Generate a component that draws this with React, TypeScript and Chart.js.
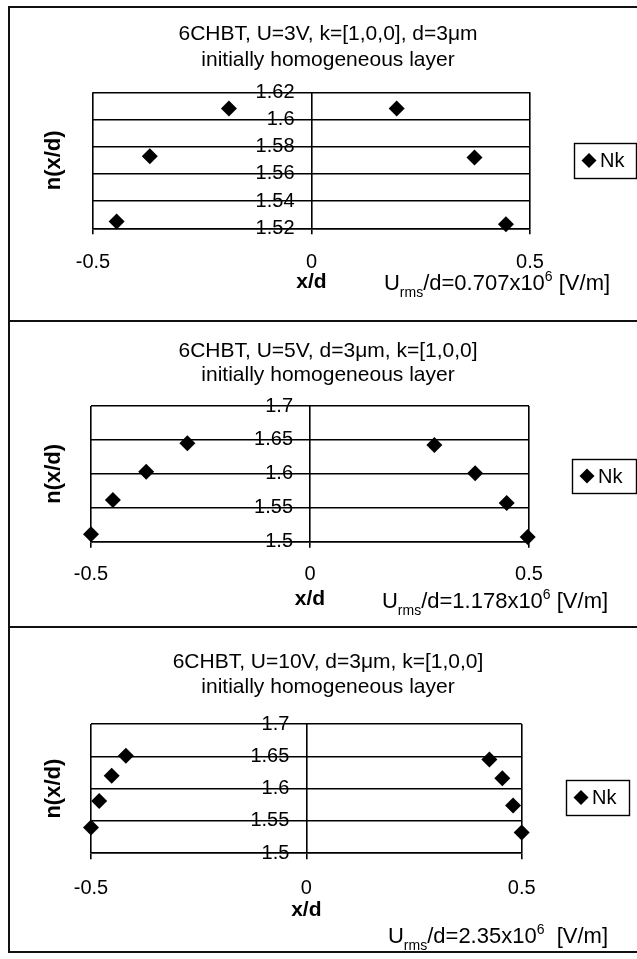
import React, { useEffect, useRef } from "react";
import { Chart, registerables } from "chart.js";

Chart.register(...registerables);

const FONT_FAMILY = "'Liberation Sans', Arial, Helvetica, sans-serif";

// ---------- data ----------
const SERIES_NAME = "Nk";
const X_AXIS_TITLE = "x/d";
const Y_AXIS_TITLE = "n(x/d)";
const SUBTITLE = "initially homogeneous layer";
const X_MIN = -0.5;
const X_MAX = 0.5;
const X_STEP = 0.5;

const TITLES = [
  "6CHBT, U=3V, k=[1,0,0], d=3μm",
  "6CHBT, U=5V, d=3μm, k=[1,0,0]",
  "6CHBT, U=10V, d=3μm, k=[1,0,0]",
];
const URMS_VALUES = ["0.707", "1.178", "2.35"];
const URMS_GAPS = [" ", " ", "  "];

const X_1 = [-0.446, -0.37, -0.189, 0.195, 0.373, 0.445];
const N_1 = [1.525, 1.573, 1.608, 1.608, 1.572, 1.523];

const X_2 = [-0.5, -0.45, -0.374, -0.28, 0.284, 0.377, 0.449, 0.497];
const N_2 = [1.511, 1.5615, 1.603, 1.645, 1.6425, 1.601, 1.557, 1.507];

const X_3 = [-0.5, -0.481, -0.452, -0.419, 0.425, 0.455, 0.48, 0.5];
const N_3 = [1.54, 1.581, 1.62, 1.651, 1.645, 1.616, 1.574, 1.532];

const X_SERIES = [X_1, X_2, X_3];
const N_SERIES = [N_1, N_2, N_3];
const Y_MIN = [1.52, 1.5, 1.5];
const Y_MAX = [1.62, 1.7, 1.7];
const Y_STEP = [0.02, 0.05, 0.05];

// ---------- layout (page pixels) ----------
const PAGE_W = 637;
const PAGE_H = 959;
const LAYOUT = [
  { top: 0, height: 321, left: 93, right: 530, plotTop: 92.3, plotBottom: 228.3, titleCenter: 34, titleLH: 26, tickCenter: 262, xTitleCenter: 282, urmsCX: 497, urmsCY: 282, legend: [574, 143, 637, 178] },
  { top: 321, height: 306, left: 91, right: 529, plotTop: 406, plotBottom: 541.7, titleCenter: 351.5, titleLH: 24, tickCenter: 574, xTitleCenter: 599, urmsCX: 495, urmsCY: 600, legend: [572, 459, 637, 493] },
  { top: 627, height: 332, left: 91, right: 521.7, plotTop: 724, plotBottom: 853.3, titleCenter: 662, titleLH: 25, tickCenter: 888, xTitleCenter: 910, urmsCX: 498, urmsCY: 935, legend: [566, 780, 630, 815] },
];
const TITLE_CENTER_X = 328;
const LINE_W = 1.6;
const INK = "#000";
const TITLE_SIZE = 21;
const TICK_SIZE = 20;
const X_TITLE_SIZE = 21;
const Y_TITLE_SIZE = 22;
const URMS_SIZE = 22;
const LEGEND_SIZE = 20;

const decorPlugin = {
  id: "panelDecor",
  afterDraw(chart: any, _args: any, opts: any) {
    const ctx = chart.ctx as CanvasRenderingContext2D;
    const T = opts.top;
    ctx.save();
    // legend
    const [l, t, r, b] = opts.legend;
    ctx.strokeStyle = INK;
    ctx.lineWidth = 1.4;
    ctx.strokeRect(l + 0.5, t - T + 0.5, r - l - 1, b - t);
    const cy = (t + b) / 2 - T;
    const dx = l + 15;
    const rad = 7.5;
    ctx.fillStyle = INK;
    ctx.beginPath();
    ctx.moveTo(dx, cy - rad);
    ctx.lineTo(dx + rad, cy);
    ctx.lineTo(dx, cy + rad);
    ctx.lineTo(dx - rad, cy);
    ctx.closePath();
    ctx.fill();
    ctx.font = `${LEGEND_SIZE}px ${FONT_FAMILY}`;
    ctx.textBaseline = "middle";
    ctx.textAlign = "left";
    ctx.fillText(opts.series, l + 26, cy + 1);

    // U_rms/d annotation
    const size = URMS_SIZE;
    const main = `${size}px ${FONT_FAMILY}`;
    const small = `${Math.round(size * 0.62)}px ${FONT_FAMILY}`;
    const parts: [string, string, number][] = [
      ["U", main, 0],
      ["rms", small, size * 0.3],
      [`/d=${opts.urms}x10`, main, 0],
      ["6", small, -size * 0.42],
      [`${opts.gap}[V/m]`, main, 0],
    ];
    let total = 0;
    for (const [txt, f] of parts) {
      ctx.font = f;
      total += ctx.measureText(txt).width;
    }
    let x = opts.urmsCX - total / 2;
    const base = opts.urmsCY - T + size * 0.36;
    ctx.textBaseline = "alphabetic";
    for (const [txt, f, dy] of parts) {
      ctx.font = f;
      ctx.fillText(txt, x, base + dy);
      x += ctx.measureText(txt).width;
    }
    ctx.restore();
  },
};

const formatTick = (v: number | string) => String(Math.round(Number(v) * 1000) / 1000);

function makeConfig(i: number): any {
  const L = LAYOUT[i];
  const T = L.top;
  const padL = 2 * TITLE_CENTER_X - PAGE_W;
  const leftW = L.left - padL;
  const rightW = PAGE_W - L.right;
  const plotTopLocal = L.plotTop - T;
  const plotBottomLocal = L.plotBottom - T;
  const titlePadTop = L.titleCenter - T - L.titleLH / 2;
  const titlePadBottom = plotTopLocal - titlePadTop - 2 * L.titleLH;
  const xAxisH = L.height - plotBottomLocal;
  const tickLen = 6;
  const tickPad = L.tickCenter - T - plotBottomLocal - tickLen - (TICK_SIZE * 1.2) / 2;
  const xTitleLH = 24;
  const xTitlePadBottom = L.height - xTitleLH / 2 - (L.xTitleCenter - T);
  const yTitlePadTop = 53.5 - padL - (Y_TITLE_SIZE * 1.2) / 2;
  const yLabelGap = 17;
  const yLabelPos = (-yLabelGap / (L.right - L.left)) * (X_MAX - X_MIN);

  const xs = X_SERIES[i];
  const ns = N_SERIES[i];

  return {
    type: "scatter",
    data: {
      datasets: [
        {
          label: SERIES_NAME,
          data: xs.map((x, k) => ({ x, y: ns[k] })),
          pointStyle: "rectRot",
          pointRadius: 8,
          backgroundColor: INK,
          borderColor: INK,
          borderWidth: 0,
          showLine: false,
          clip: false,
          xAxisID: "x",
          yAxisID: "y",
        },
      ],
    },
    options: {
      animation: false,
      responsive: false,
      devicePixelRatio: 1,
      events: [],
      layout: { padding: { left: padL, right: 0, top: 0, bottom: 0 } },
      plugins: {
        legend: { display: false },
        tooltip: { enabled: false },
        title: {
          display: true,
          text: [TITLES[i], SUBTITLE],
          color: INK,
          font: { family: FONT_FAMILY, size: TITLE_SIZE, weight: "normal", lineHeight: `${L.titleLH}px` },
          padding: { top: titlePadTop, bottom: titlePadBottom },
        },
        panelDecor: {
          top: T,
          legend: L.legend,
          series: SERIES_NAME,
          urms: URMS_VALUES[i],
          gap: URMS_GAPS[i],
          urmsCX: L.urmsCX,
          urmsCY: L.urmsCY,
        },
      },
      scales: {
        x: {
          type: "linear",
          position: "bottom",
          min: X_MIN,
          max: X_MAX,
          ticks: {
            stepSize: X_STEP,
            color: INK,
            padding: tickPad,
            font: { family: FONT_FAMILY, size: TICK_SIZE },
            maxRotation: 0,
            callback: formatTick,
          },
          grid: { color: INK, lineWidth: LINE_W, drawTicks: true, tickLength: tickLen, tickColor: INK, tickWidth: LINE_W },
          border: { display: true, color: INK, width: LINE_W },
          title: {
            display: true,
            text: X_AXIS_TITLE,
            color: INK,
            font: { family: FONT_FAMILY, size: X_TITLE_SIZE, weight: "bold", lineHeight: `${xTitleLH}px` },
            padding: { top: 0, bottom: xTitlePadBottom },
          },
          afterFit: (s: any) => {
            s.height = xAxisH;
          },
        },
        y: {
          type: "linear",
          position: { x: yLabelPos },
          min: Y_MIN[i],
          max: Y_MAX[i],
          ticks: {
            stepSize: Y_STEP[i],
            color: INK,
            padding: 0,
            font: { family: FONT_FAMILY, size: TICK_SIZE },
            callback: formatTick,
          },
          grid: { color: INK, lineWidth: LINE_W, drawTicks: false },
          border: { display: false },
        },
        yl: {
          type: "linear",
          position: "left",
          display: true,
          ticks: { display: false },
          grid: { display: false, drawTicks: false },
          border: { display: false },
          title: {
            display: true,
            text: Y_AXIS_TITLE,
            color: INK,
            font: { family: FONT_FAMILY, size: Y_TITLE_SIZE, weight: "bold" },
            padding: { top: yTitlePadTop, bottom: 0 },
          },
          afterFit: (s: any) => {
            s.width = leftW;
          },
        },
        yr: {
          type: "linear",
          position: "right",
          display: true,
          ticks: { display: false },
          grid: { display: false, drawTicks: false },
          border: { display: false },
          afterFit: (s: any) => {
            s.width = rightW;
          },
        },
      },
    },
    plugins: [decorPlugin],
  };
}

function Panel({ index }: { index: number }) {
  const ref = useRef<HTMLCanvasElement>(null);
  useEffect(() => {
    const chart = new Chart(ref.current as HTMLCanvasElement, makeConfig(index));
    return () => chart.destroy();
  }, [index]);
  const L = LAYOUT[index];
  return (
    <canvas
      ref={ref}
      width={PAGE_W}
      height={L.height}
      style={{ position: "absolute", left: 0, top: L.top, width: PAGE_W, height: L.height, display: "block" }}
    />
  );
}

const FRAME_LEFT = 9;
const FRAME_LINES_Y = [7, 321, 627, 952];

export default function App() {
  return (
    <div
      style={{
        position: "absolute",
        left: 0,
        top: 0,
        width: PAGE_W,
        height: PAGE_H,
        background: "#fff",
        overflow: "hidden",
      }}
    >
      {[0, 1, 2].map((i) => (
        <Panel key={i} index={i} />
      ))}
      {FRAME_LINES_Y.map((y) => (
        <div
          key={y}
          style={{ position: "absolute", left: FRAME_LEFT, top: y - 1, width: PAGE_W - FRAME_LEFT, height: 2, background: "#111" }}
        />
      ))}
      <div
        style={{
          position: "absolute",
          left: FRAME_LEFT - 1,
          top: FRAME_LINES_Y[0] - 1,
          width: 2,
          height: FRAME_LINES_Y[3] - FRAME_LINES_Y[0] + 2,
          background: "#111",
        }}
      />
    </div>
  );
}
